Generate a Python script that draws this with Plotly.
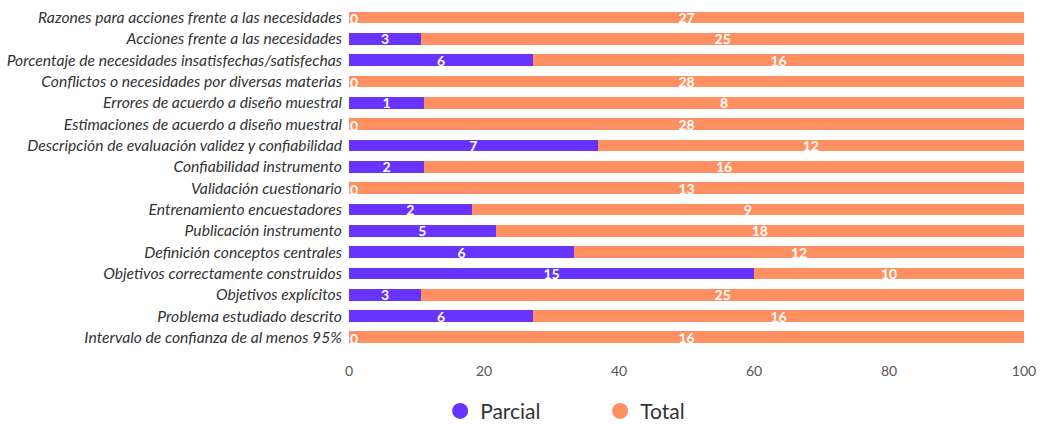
import plotly.graph_objects as go

# Criteria evaluated, listed top to bottom
criterios = [
    "Razones para acciones frente a las necesidades",
    "Acciones frente a las necesidades",
    "Porcentaje de necesidades insatisfechas/satisfechas",
    "Conflictos o necesidades por diversas materias",
    "Errores de acuerdo a diseño muestral",
    "Estimaciones de acuerdo a diseño muestral",
    "Descripción de evaluación validez y confiabilidad",
    "Confiabilidad instrumento",
    "Validación cuestionario",
    "Entrenamiento encuestadores",
    "Publicación instrumento",
    "Definición conceptos centrales",
    "Objetivos correctamente construidos",
    "Objetivos explícitos",
    "Problema estudiado descrito",
    "Intervalo de confianza de al menos 95%",
]
parcial = [0, 3, 6, 0, 1, 0, 7, 2, 0, 2, 5, 6, 15, 3, 6, 0]
total = [27, 25, 16, 28, 8, 28, 12, 16, 13, 9, 18, 12, 10, 25, 16, 16]
x_ticks = [0, 20, 40, 60, 80, 100]

COLOR_PARCIAL = "#6633ff"
COLOR_TOTAL = "#ff8f60"
LABEL_FONT = "Lato"

fig = go.Figure()
for name, vals, color in [("Parcial", parcial, COLOR_PARCIAL), ("Total", total, COLOR_TOTAL)]:
    fig.add_trace(go.Bar(
        y=criterios, x=vals, name=name, orientation="h",
        marker=dict(color=color, line=dict(width=0)),
        text=[str(v) for v in vals], textposition="inside", textangle=0,
        insidetextanchor="middle", constraintext="none",
        textfont=dict(family=LABEL_FONT, size=14, color="white", weight="bold"),
        showlegend=False, hoverinfo="skip",
    ))
    # circular legend entries
    fig.add_trace(go.Scatter(
        x=[None], y=[None], mode="markers", name=name,
        marker=dict(color=color, size=20, symbol="circle"),
        showlegend=True,
    ))

# zero-count labels sit at the start of the bar
for cat, v in zip(criterios, parcial):
    if v == 0:
        fig.add_annotation(
            x=0, y=cat, text=str(v), showarrow=False, xanchor="left",
            xshift=-1, yshift=-1,
            font=dict(family=LABEL_FONT, size=14, color="white", weight="bold"),
        )

fig.update_layout(
    barmode="stack", barnorm="percent", bargap=0.45,
    width=1045, height=424,
    margin=dict(l=349, r=21, t=6, b=76, autoexpand=False),
    paper_bgcolor="white", plot_bgcolor="white",
    legend=dict(
        orientation="h", traceorder="normal",
        x=0.135, xanchor="left", yref="container", y=0.03, yanchor="middle",
        font=dict(family=LABEL_FONT, size=21, color="#333333"),
        entrywidth=115, itemsizing="trace",
    ),
)
fig.update_yaxes(
    categoryorder="array", categoryarray=criterios, autorange="reversed",
    tickfont=dict(family=LABEL_FONT, size=15.7, color="#333333", style="italic"),
    showgrid=False, zeroline=False, ticks="", ticklabelstandoff=6,
)
fig.update_xaxes(
    range=[0, 100], tickvals=x_ticks, ticktext=[str(t) for t in x_ticks],
    tickfont=dict(family=LABEL_FONT, size=14, color="#555555"),
    showgrid=False, zeroline=False, ticks="", ticklabelstandoff=13,
)

fig.write_html("out.html")
